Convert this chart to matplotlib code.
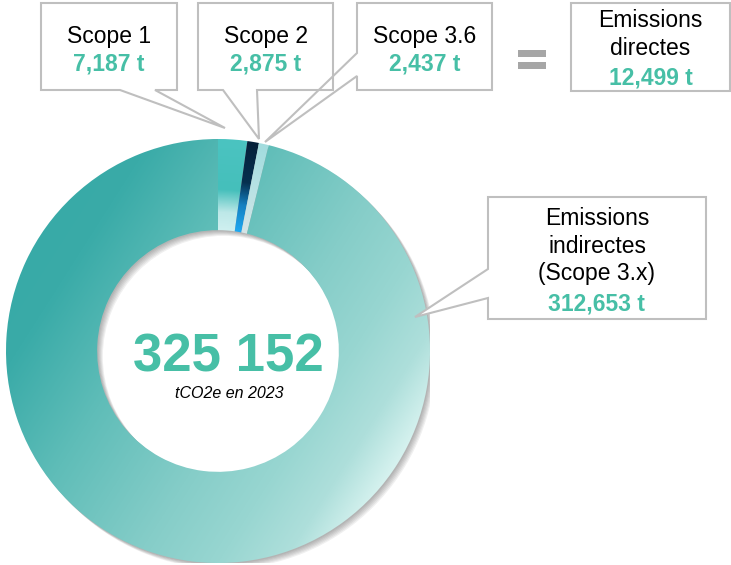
import numpy as np
import matplotlib.pyplot as plt
from matplotlib.colors import LinearSegmentedColormap
from matplotlib.patches import Polygon, Rectangle, Wedge

# data
labels = ['Scope 1', 'Scope 2', 'Scope 3.6']
values = [7187, 2875, 2437]
indirect_label = ['Emissions', 'indirectes', '(Scope 3.x)']
indirect_value = 312653
year = 2023

direct_total = sum(values)
total = direct_total + indirect_value

plt.rcParams['font.family'] = ['Liberation Sans', 'DejaVu Sans']
teal = '#47BFA6'
edge = '#BFBFBF'

W, H = 731, 565
fig = plt.figure(figsize=(W / 100, H / 100), dpi=100)

# donut
cx, cy, R = 218, 351, 212
ax = fig.add_axes([(cx - R) / W, (H - cy - R) / H, 2 * R / W, 2 * R / H])
wedges, _ = ax.pie(values + [indirect_value], startangle=90, counterclock=False,
                   radius=1, wedgeprops=dict(width=0.43, linewidth=0))

# soft shadow down-right
for k in range(1, 7):
    ax.add_patch(Wedge((k * 0.0045, -k * 0.0045), 1, 0, 360, width=0.43,
                       color='0.25', alpha=0.08, lw=0, zorder=0))

yy, xx = np.mgrid[-1:1:700j, -1:1:700j]
rr = np.hypot(xx, yy)
t_rad = np.clip((rr - 0.57) / 0.43, 0, 1)
p = 0.844 * xx - 0.537 * yy
t_lin = np.clip((p + 1) / 2, 0, 1)

cmaps = [
    LinearSegmentedColormap.from_list('s1', [(0, '#CFF0F0'), (0.2, '#BDE8E8'),
                                             (0.45, '#45BFBB'), (1, '#4BC4C1')]),
    LinearSegmentedColormap.from_list('s2', [(0, '#1EA9F2'), (0.3, '#1580C0'),
                                             (0.55, '#06304F'), (1, '#05213A')]),
    LinearSegmentedColormap.from_list('s36', [(0, '#D5E5E7'), (0.5, '#B8E2E4'),
                                              (1, '#A2DCDE')]),
    LinearSegmentedColormap.from_list('ind', [(0, '#38AAA7'), (0.1, '#3AABA8'),
                                              (0.33, '#5FBDB8'), (0.6, '#85CDC8'),
                                              (0.77, '#98D6D1'), (0.9, '#AEDFDB'),
                                              (1, '#D6F2EF')]),
]
fields = [t_rad, t_rad, t_rad, t_lin]

for w, cm, f in zip(wedges, cmaps, fields):
    w.set_facecolor('none')
    im = ax.imshow(cm(f), extent=(-1, 1, -1, 1), origin='lower',
                   interpolation='bilinear', zorder=1)
    im.set_clip_path(w)

ax.set_xlim(-1, 1)
ax.set_ylim(-1, 1)
ax.set_aspect('equal')
ax.axis('off')

# overlay in pixel coordinates for callouts
ax2 = fig.add_axes([0, 0, 1, 1])
ax2.set_xlim(0, W)
ax2.set_ylim(H, 0)
ax2.axis('off')
ax2.patch.set_alpha(0)

shapes = [
    [(41, 3), (177, 3), (177, 90), (155, 90), (225, 128), (120, 90), (41, 90)],
    [(198, 3), (333, 3), (333, 90), (257, 90), (259, 139), (223, 90), (198, 90)],
    [(357, 3), (492, 3), (492, 90), (357, 90), (357, 76), (265, 142), (357, 53)],
    [(571, 3), (730, 3), (730, 91), (571, 91)],
    [(488, 197), (706, 197), (706, 319), (488, 319), (488, 298), (415, 317), (488, 269)],
]
for s in shapes:
    ax2.add_patch(Polygon(s, closed=True, facecolor='white', edgecolor='none', zorder=3))
for s in shapes:
    ax2.add_patch(Polygon(s, closed=True, facecolor='none', edgecolor=edge,
                          lw=1.5, joinstyle='miter', zorder=4))

fs = 16.5
centers = [109, 265.5, 424.5]
for xc, lab, v in zip(centers, labels, values):
    ax2.text(xc, 43, lab, ha='center', va='baseline', fontsize=fs, color='black', zorder=5)
    ax2.text(xc, 70, f'{v:,} t', ha='center', va='baseline', fontsize=fs,
             fontweight='bold', color=teal, zorder=5)

# equals sign
ax2.add_patch(Rectangle((518, 50), 28, 6.5, color='#A6A6A6', lw=0, zorder=5))
ax2.add_patch(Rectangle((518, 62), 28, 6.5, color='#A6A6A6', lw=0, zorder=5))

ax2.text(650.5, 27, 'Emissions', ha='center', va='baseline', fontsize=fs, zorder=5)
ax2.text(650.5, 55, 'directes', ha='center', va='baseline', fontsize=fs, zorder=5)
ax2.text(650.5, 84, f'{direct_total:,} t', ha='center', va='baseline', fontsize=fs,
         fontweight='bold', color=teal, zorder=5)

for yb, line in zip([225, 253, 280], indirect_label):
    ax2.text(597, yb, line, ha='center', va='baseline', fontsize=fs, zorder=5)
ax2.text(597, 310, f'{indirect_value:,} t', ha='center', va='baseline', fontsize=fs,
         fontweight='bold', color=teal, zorder=5)

# centre total
ax2.text(228, 372, f'{total:,}'.replace(',', ' '), ha='center', va='baseline',
         fontsize=38, fontweight='bold', color=teal, zorder=5)
ax2.text(229, 398, f'tCO2e en {year}', ha='center', va='baseline', fontsize=11.5,
         style='italic', color='black', zorder=5)

fig.savefig('out.png', dpi=100)
